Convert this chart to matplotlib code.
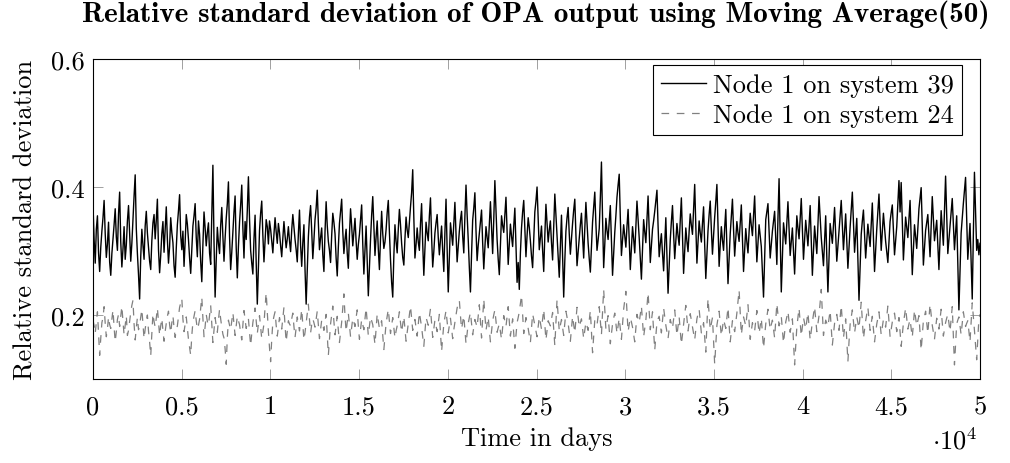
import matplotlib
matplotlib.use('Agg')
import matplotlib.pyplot as plt
import numpy as np

# relative standard deviation, moving average(50)
rsd_sys39 = [
    0.372, 0.318, 0.281, 0.334, 0.355, 0.297, 0.268, 0.306, 0.331, 0.352, 0.379, 0.327, 0.290, 0.311, 0.345, 0.283, 0.262, 0.296, 0.318, 0.341,
    0.366, 0.322, 0.301, 0.358, 0.392, 0.314, 0.275, 0.303, 0.338, 0.287, 0.309, 0.347, 0.371, 0.326, 0.284, 0.312, 0.349, 0.386, 0.419, 0.335,
    0.296, 0.263, 0.225, 0.291, 0.334, 0.309, 0.287, 0.339, 0.362, 0.328, 0.305, 0.284, 0.271, 0.316, 0.344, 0.357, 0.319, 0.348, 0.381, 0.302,
    0.266, 0.293, 0.327, 0.346, 0.298, 0.335, 0.369, 0.318, 0.281, 0.307, 0.352, 0.329, 0.313, 0.277, 0.259, 0.304, 0.341, 0.363, 0.388, 0.324,
    0.302, 0.331, 0.276, 0.314, 0.357, 0.342, 0.318, 0.289, 0.265, 0.301, 0.339, 0.355, 0.374, 0.321, 0.291, 0.347, 0.326, 0.283, 0.252, 0.310,
    0.361, 0.336, 0.308, 0.329, 0.344, 0.297, 0.279, 0.358, 0.434, 0.315, 0.228, 0.286, 0.337, 0.312, 0.296, 0.340, 0.368, 0.323, 0.284, 0.320,
    0.351, 0.374, 0.408, 0.323, 0.271, 0.298, 0.329, 0.361, 0.386, 0.305, 0.258, 0.307, 0.345, 0.372, 0.403, 0.336, 0.289, 0.346, 0.318, 0.364,
    0.416, 0.350, 0.301, 0.281, 0.264, 0.319, 0.356, 0.282, 0.217, 0.276, 0.332, 0.359, 0.378, 0.325, 0.283, 0.317, 0.349, 0.338, 0.311, 0.347,
    0.334, 0.315, 0.297, 0.326, 0.352, 0.330, 0.312, 0.343, 0.329, 0.308, 0.291, 0.320, 0.346, 0.324, 0.305, 0.319, 0.338, 0.316, 0.299, 0.333,
    0.357, 0.337, 0.318, 0.302, 0.283, 0.327, 0.364, 0.309, 0.276, 0.313, 0.341, 0.270, 0.217, 0.268, 0.322, 0.353, 0.371, 0.332, 0.288, 0.317,
    0.349, 0.367, 0.395, 0.344, 0.302, 0.321, 0.336, 0.294, 0.268, 0.330, 0.377, 0.340, 0.315, 0.301, 0.282, 0.324, 0.359, 0.345, 0.327, 0.289,
    0.261, 0.306, 0.343, 0.362, 0.381, 0.331, 0.296, 0.318, 0.334, 0.297, 0.273, 0.325, 0.366, 0.339, 0.308, 0.329, 0.351, 0.316, 0.287, 0.310,
    0.326, 0.348, 0.372, 0.311, 0.264, 0.302, 0.339, 0.285, 0.230, 0.274, 0.318, 0.356, 0.385, 0.338, 0.293, 0.322, 0.347, 0.303, 0.271, 0.320,
    0.362, 0.327, 0.304, 0.314, 0.333, 0.360, 0.379, 0.330, 0.286, 0.251, 0.228, 0.292, 0.341, 0.315, 0.297, 0.334, 0.365, 0.341, 0.312, 0.290,
    0.278, 0.319, 0.353, 0.333, 0.321, 0.346, 0.369, 0.391, 0.427, 0.352, 0.289, 0.310, 0.336, 0.314, 0.301, 0.343, 0.374, 0.311, 0.262, 0.305,
    0.345, 0.328, 0.316, 0.355, 0.383, 0.322, 0.275, 0.299, 0.328, 0.344, 0.357, 0.321, 0.294, 0.318, 0.339, 0.300, 0.268, 0.329, 0.381, 0.303,
    0.236, 0.292, 0.344, 0.326, 0.309, 0.341, 0.376, 0.327, 0.283, 0.306, 0.331, 0.349, 0.362, 0.323, 0.297, 0.354, 0.403, 0.357, 0.318, 0.274,
    0.236, 0.295, 0.348, 0.367, 0.391, 0.332, 0.285, 0.309, 0.327, 0.346, 0.364, 0.313, 0.272, 0.306, 0.338, 0.321, 0.305, 0.342, 0.377, 0.335,
    0.296, 0.349, 0.410, 0.362, 0.318, 0.287, 0.263, 0.311, 0.355, 0.340, 0.329, 0.357, 0.384, 0.330, 0.279, 0.312, 0.342, 0.323, 0.307, 0.339,
    0.367, 0.306, 0.251, 0.282, 0.240, 0.297, 0.336, 0.361, 0.379, 0.333, 0.291, 0.324, 0.352, 0.337, 0.316, 0.292, 0.274, 0.319, 0.361, 0.378,
    0.400, 0.349, 0.302, 0.321, 0.339, 0.301, 0.268, 0.324, 0.373, 0.342, 0.314, 0.333, 0.347, 0.313, 0.286, 0.340, 0.389, 0.356, 0.325, 0.290,
    0.259, 0.310, 0.356, 0.289, 0.228, 0.285, 0.331, 0.352, 0.368, 0.327, 0.295, 0.320, 0.343, 0.364, 0.381, 0.326, 0.277, 0.299, 0.322, 0.341,
    0.359, 0.322, 0.289, 0.335, 0.376, 0.344, 0.312, 0.288, 0.267, 0.308, 0.345, 0.369, 0.392, 0.343, 0.301, 0.317, 0.335, 0.383, 0.439, 0.351,
    0.274, 0.310, 0.351, 0.332, 0.318, 0.346, 0.371, 0.315, 0.262, 0.297, 0.329, 0.355, 0.384, 0.403, 0.420, 0.352, 0.293, 0.318, 0.341, 0.324,
    0.306, 0.338, 0.365, 0.317, 0.271, 0.305, 0.338, 0.319, 0.297, 0.336, 0.378, 0.350, 0.321, 0.287, 0.256, 0.303, 0.349, 0.330, 0.313, 0.351,
    0.386, 0.333, 0.282, 0.309, 0.334, 0.347, 0.362, 0.379, 0.395, 0.340, 0.291, 0.311, 0.327, 0.296, 0.269, 0.312, 0.352, 0.291, 0.234, 0.276,
    0.318, 0.346, 0.371, 0.327, 0.288, 0.316, 0.343, 0.324, 0.309, 0.348, 0.383, 0.322, 0.265, 0.301, 0.336, 0.315, 0.299, 0.331, 0.358, 0.340,
    0.326, 0.367, 0.404, 0.339, 0.281, 0.314, 0.347, 0.328, 0.314, 0.343, 0.369, 0.310, 0.257, 0.294, 0.332, 0.357, 0.378, 0.334, 0.295, 0.325,
    0.353, 0.377, 0.404, 0.338, 0.276, 0.309, 0.338, 0.317, 0.301, 0.336, 0.365, 0.306, 0.249, 0.288, 0.327, 0.355, 0.381, 0.334, 0.292, 0.320,
    0.346, 0.328, 0.315, 0.344, 0.372, 0.318, 0.268, 0.302, 0.335, 0.314, 0.297, 0.330, 0.359, 0.340, 0.324, 0.356, 0.386, 0.331, 0.283, 0.313,
    0.341, 0.324, 0.307, 0.268, 0.228, 0.290, 0.349, 0.362, 0.374, 0.330, 0.289, 0.310, 0.331, 0.347, 0.362, 0.320, 0.279, 0.351, 0.413, 0.322,
    0.236, 0.291, 0.344, 0.327, 0.311, 0.345, 0.377, 0.334, 0.293, 0.315, 0.336, 0.299, 0.264, 0.311, 0.355, 0.336, 0.319, 0.351, 0.382, 0.334,
    0.287, 0.318, 0.348, 0.327, 0.308, 0.340, 0.371, 0.315, 0.262, 0.302, 0.339, 0.317, 0.296, 0.342, 0.385, 0.352, 0.321, 0.299, 0.277, 0.316,
    0.355, 0.291, 0.236, 0.290, 0.343, 0.328, 0.312, 0.341, 0.368, 0.326, 0.284, 0.307, 0.331, 0.356, 0.379, 0.340, 0.302, 0.329, 0.358, 0.314,
    0.273, 0.305, 0.337, 0.364, 0.392, 0.345, 0.298, 0.325, 0.351, 0.287, 0.223, 0.275, 0.326, 0.347, 0.364, 0.327, 0.289, 0.316, 0.342, 0.324,
    0.307, 0.341, 0.375, 0.322, 0.268, 0.301, 0.334, 0.362, 0.389, 0.345, 0.301, 0.330, 0.359, 0.337, 0.315, 0.298, 0.282, 0.314, 0.346, 0.360,
    0.372, 0.333, 0.294, 0.316, 0.338, 0.374, 0.410, 0.361, 0.407, 0.346, 0.286, 0.320, 0.353, 0.337, 0.321, 0.350, 0.379, 0.321, 0.263, 0.302,
    0.341, 0.323, 0.304, 0.335, 0.366, 0.382, 0.399, 0.338, 0.278, 0.305, 0.332, 0.345, 0.357, 0.324, 0.291, 0.338, 0.385, 0.350, 0.316, 0.332,
    0.348, 0.310, 0.271, 0.317, 0.363, 0.336, 0.309, 0.363, 0.417, 0.356, 0.296, 0.318, 0.339, 0.360, 0.382, 0.342, 0.302, 0.328, 0.355, 0.281,
    0.208, 0.268, 0.328, 0.351, 0.374, 0.394, 0.415, 0.351, 0.287, 0.315, 0.343, 0.284, 0.225, 0.324, 0.423, 0.362, 0.301, 0.318, 0.294, 0.312,
]

rsd_sys24 = [
    0.192, 0.183, 0.171, 0.189, 0.205, 0.172, 0.137, 0.164, 0.188, 0.196, 0.213, 0.187, 0.166, 0.178, 0.197, 0.185, 0.179, 0.194, 0.208, 0.181,
    0.158, 0.174, 0.193, 0.201, 0.182, 0.198, 0.214, 0.190, 0.169, 0.184, 0.199, 0.168, 0.176, 0.190, 0.204, 0.215, 0.223, 0.186, 0.161, 0.180,
    0.196, 0.177, 0.184, 0.197, 0.209, 0.186, 0.163, 0.178, 0.191, 0.200, 0.175, 0.158, 0.136, 0.171, 0.202, 0.190, 0.181, 0.195, 0.211, 0.189,
    0.168, 0.183, 0.195, 0.176, 0.159, 0.174, 0.187, 0.198, 0.206, 0.185, 0.172, 0.188, 0.199, 0.180, 0.165, 0.176, 0.183, 0.197, 0.212, 0.219,
    0.226, 0.194, 0.174, 0.186, 0.197, 0.179, 0.162, 0.150, 0.137, 0.168, 0.189, 0.198, 0.207, 0.191, 0.178, 0.184, 0.193, 0.210, 0.228, 0.195,
    0.166, 0.182, 0.201, 0.190, 0.184, 0.199, 0.215, 0.186, 0.157, 0.177, 0.196, 0.183, 0.173, 0.192, 0.209, 0.194, 0.181, 0.170, 0.164, 0.147,
    0.123, 0.165, 0.192, 0.184, 0.177, 0.190, 0.204, 0.186, 0.168, 0.183, 0.198, 0.191, 0.185, 0.172, 0.161, 0.185, 0.207, 0.193, 0.179, 0.187,
    0.194, 0.173, 0.152, 0.171, 0.188, 0.200, 0.211, 0.190, 0.171, 0.186, 0.199, 0.181, 0.163, 0.175, 0.186, 0.212, 0.235, 0.203, 0.174, 0.149,
    0.127, 0.162, 0.189, 0.198, 0.205, 0.184, 0.167, 0.181, 0.196, 0.187, 0.178, 0.195, 0.212, 0.183, 0.158, 0.175, 0.191, 0.186, 0.183, 0.194,
    0.203, 0.182, 0.165, 0.180, 0.197, 0.186, 0.175, 0.192, 0.209, 0.184, 0.161, 0.173, 0.188, 0.203, 0.217, 0.193, 0.172, 0.185, 0.194, 0.188,
    0.181, 0.193, 0.206, 0.184, 0.163, 0.178, 0.192, 0.185, 0.176, 0.190, 0.201, 0.168, 0.137, 0.162, 0.186, 0.200, 0.214, 0.190, 0.169, 0.184,
    0.198, 0.176, 0.157, 0.173, 0.189, 0.211, 0.233, 0.199, 0.174, 0.188, 0.203, 0.184, 0.166, 0.180, 0.195, 0.189, 0.182, 0.196, 0.208, 0.183,
    0.162, 0.178, 0.193, 0.185, 0.177, 0.194, 0.211, 0.189, 0.168, 0.183, 0.197, 0.191, 0.185, 0.170, 0.154, 0.178, 0.202, 0.190, 0.179, 0.186,
    0.191, 0.168, 0.146, 0.167, 0.187, 0.198, 0.209, 0.190, 0.171, 0.184, 0.196, 0.180, 0.164, 0.175, 0.183, 0.194, 0.205, 0.188, 0.173, 0.186,
    0.198, 0.179, 0.159, 0.173, 0.188, 0.201, 0.214, 0.195, 0.176, 0.185, 0.193, 0.180, 0.167, 0.186, 0.204, 0.192, 0.181, 0.166, 0.151, 0.174,
    0.196, 0.190, 0.184, 0.197, 0.210, 0.187, 0.165, 0.179, 0.192, 0.183, 0.174, 0.188, 0.201, 0.172, 0.143, 0.165, 0.186, 0.197, 0.207, 0.189,
    0.172, 0.184, 0.195, 0.179, 0.163, 0.177, 0.189, 0.200, 0.211, 0.217, 0.223, 0.199, 0.178, 0.188, 0.199, 0.177, 0.155, 0.171, 0.187, 0.196,
    0.204, 0.186, 0.169, 0.181, 0.193, 0.187, 0.181, 0.198, 0.216, 0.189, 0.164, 0.194, 0.225, 0.200, 0.176, 0.186, 0.197, 0.178, 0.158, 0.175,
    0.191, 0.200, 0.208, 0.190, 0.173, 0.180, 0.186, 0.174, 0.162, 0.181, 0.199, 0.190, 0.182, 0.197, 0.213, 0.190, 0.167, 0.181, 0.194, 0.171,
    0.148, 0.169, 0.188, 0.196, 0.205, 0.218, 0.231, 0.201, 0.171, 0.184, 0.196, 0.187, 0.179, 0.168, 0.157, 0.180, 0.202, 0.193, 0.184, 0.175,
    0.166, 0.182, 0.197, 0.188, 0.178, 0.194, 0.209, 0.185, 0.161, 0.176, 0.191, 0.187, 0.183, 0.193, 0.204, 0.178, 0.152, 0.188, 0.224, 0.200,
    0.175, 0.184, 0.193, 0.181, 0.168, 0.187, 0.206, 0.196, 0.187, 0.173, 0.159, 0.179, 0.198, 0.185, 0.172, 0.192, 0.212, 0.197, 0.181, 0.188,
    0.194, 0.179, 0.163, 0.176, 0.189, 0.183, 0.176, 0.191, 0.207, 0.174, 0.141, 0.167, 0.192, 0.188, 0.184, 0.199, 0.213, 0.191, 0.169, 0.205,
    0.240, 0.209, 0.178, 0.189, 0.199, 0.177, 0.155, 0.171, 0.186, 0.195, 0.203, 0.187, 0.171, 0.183, 0.195, 0.179, 0.162, 0.186, 0.209, 0.223,
    0.237, 0.205, 0.174, 0.185, 0.196, 0.189, 0.181, 0.170, 0.158, 0.180, 0.201, 0.194, 0.188, 0.201, 0.214, 0.190, 0.166, 0.179, 0.192, 0.213,
    0.235, 0.206, 0.177, 0.191, 0.205, 0.175, 0.145, 0.168, 0.189, 0.194, 0.198, 0.185, 0.172, 0.192, 0.211, 0.197, 0.184, 0.173, 0.163, 0.178,
    0.193, 0.186, 0.179, 0.194, 0.208, 0.188, 0.168, 0.183, 0.197, 0.176, 0.154, 0.170, 0.186, 0.201, 0.215, 0.195, 0.175, 0.189, 0.202, 0.192,
    0.181, 0.171, 0.161, 0.178, 0.194, 0.202, 0.209, 0.190, 0.172, 0.180, 0.188, 0.165, 0.142, 0.184, 0.226, 0.202, 0.177, 0.187, 0.196, 0.160,
    0.123, 0.153, 0.184, 0.195, 0.206, 0.186, 0.167, 0.180, 0.193, 0.186, 0.179, 0.196, 0.212, 0.185, 0.158, 0.175, 0.191, 0.182, 0.174, 0.189,
    0.203, 0.221, 0.239, 0.204, 0.169, 0.183, 0.197, 0.190, 0.183, 0.200, 0.216, 0.189, 0.162, 0.175, 0.188, 0.181, 0.175, 0.191, 0.207, 0.189,
    0.171, 0.183, 0.195, 0.172, 0.148, 0.167, 0.186, 0.198, 0.209, 0.193, 0.177, 0.185, 0.192, 0.178, 0.164, 0.191, 0.218, 0.200, 0.183, 0.190,
    0.198, 0.177, 0.156, 0.172, 0.189, 0.197, 0.206, 0.189, 0.173, 0.184, 0.194, 0.158, 0.122, 0.152, 0.181, 0.196, 0.211, 0.189, 0.167, 0.182,
    0.196, 0.187, 0.178, 0.191, 0.204, 0.183, 0.161, 0.175, 0.189, 0.201, 0.213, 0.193, 0.174, 0.186, 0.199, 0.219, 0.240, 0.204, 0.168, 0.180,
    0.192, 0.187, 0.182, 0.194, 0.207, 0.180, 0.153, 0.170, 0.187, 0.194, 0.201, 0.188, 0.176, 0.195, 0.215, 0.190, 0.164, 0.179, 0.194, 0.160,
    0.127, 0.158, 0.185, 0.196, 0.208, 0.190, 0.172, 0.184, 0.197, 0.188, 0.179, 0.199, 0.220, 0.192, 0.163, 0.177, 0.191, 0.201, 0.212, 0.194,
    0.176, 0.187, 0.198, 0.178, 0.158, 0.172, 0.186, 0.195, 0.205, 0.187, 0.169, 0.181, 0.193, 0.187, 0.181, 0.197, 0.214, 0.190, 0.166, 0.178,
    0.189, 0.196, 0.203, 0.188, 0.174, 0.185, 0.196, 0.173, 0.151, 0.169, 0.187, 0.199, 0.211, 0.194, 0.178, 0.186, 0.193, 0.179, 0.165, 0.187,
    0.208, 0.195, 0.183, 0.191, 0.199, 0.172, 0.145, 0.168, 0.191, 0.198, 0.206, 0.188, 0.171, 0.194, 0.217, 0.200, 0.184, 0.173, 0.162, 0.179,
    0.195, 0.186, 0.178, 0.193, 0.209, 0.188, 0.167, 0.178, 0.188, 0.195, 0.201, 0.187, 0.174, 0.194, 0.213, 0.168, 0.122, 0.155, 0.186, 0.192,
    0.197, 0.183, 0.169, 0.187, 0.205, 0.193, 0.182, 0.187, 0.191, 0.175, 0.158, 0.189, 0.219, 0.198, 0.176, 0.153, 0.130, 0.162, 0.194, 0.201,
]

t_first, t_last = 0, 50000   # days
labels = ['Node 1 on system 39', 'Node 1 on system 24']
xtick_vals = [0, 5000, 10000, 15000, 20000, 25000, 30000, 35000, 40000, 45000, 50000]
xtick_text = ['0', '0.5', '1', '1.5', '2', '2.5', '3', '3.5', '4', '4.5', '5']
ytick_vals = [0.2, 0.4, 0.6]

plt.rcParams['font.family'] = 'serif'
plt.rcParams['font.serif'] = ['cmr10']
plt.rcParams['mathtext.fontset'] = 'cm'
plt.rcParams['axes.unicode_minus'] = False
plt.rcParams['lines.scale_dashes'] = False

fs = 19
fig = plt.figure(figsize=(10.1, 4.64), dpi=100)
ax = fig.add_axes([93/1010, 1-380/464, 887/1010, 320/464])

t39 = np.linspace(t_first, t_last, len(rsd_sys39))
t24 = np.linspace(t_first, t_last, len(rsd_sys24))
ax.plot(t39, rsd_sys39, color='black', lw=1.0, label=labels[0])
ax.plot(t24, rsd_sys24, color='#808080', lw=0.9, dashes=(5.5, 5.5), label=labels[1])

ax.set_xlim(t_first, t_last)
ax.set_ylim(0.1, 0.6)
ax.set_xticks(xtick_vals)
ax.set_xticklabels(xtick_text)
ax.set_yticks(ytick_vals)
ax.set_yticklabels(['%.1f' % v for v in ytick_vals])
ax.tick_params(direction='in', length=7, width=0.7, color='#a0a0a0',
               top=True, right=True, labelsize=fs)
ax.tick_params(axis='x', pad=11)
ax.tick_params(axis='y', pad=6)
for s in ax.spines.values():
    s.set_linewidth(0.8)

ax.set_xlabel('Time in days', fontsize=fs, labelpad=6)
ax.set_ylabel('Relative standard deviation', fontsize=fs, labelpad=10)
ax.text(0.972, -0.19, r'$\cdot 10^4$', transform=ax.transAxes, fontsize=fs,
        ha='center', va='center')

fig.text(536/1010, 1-15/464,
         'Relative standard deviation of OPA output using Moving Average(50)',
         family='cmb10', fontsize=21, ha='center', va='center')

leg = ax.legend(loc='upper right', bbox_to_anchor=(0.98, 0.98), fontsize=fs,
                frameon=True, fancybox=False, edgecolor='black', framealpha=1,
                handlelength=1.7, handletextpad=0.3, borderpad=0.3,
                labelspacing=0.25, borderaxespad=0)
leg.get_frame().set_linewidth(0.8)

fig.savefig('out.png', dpi=100)
